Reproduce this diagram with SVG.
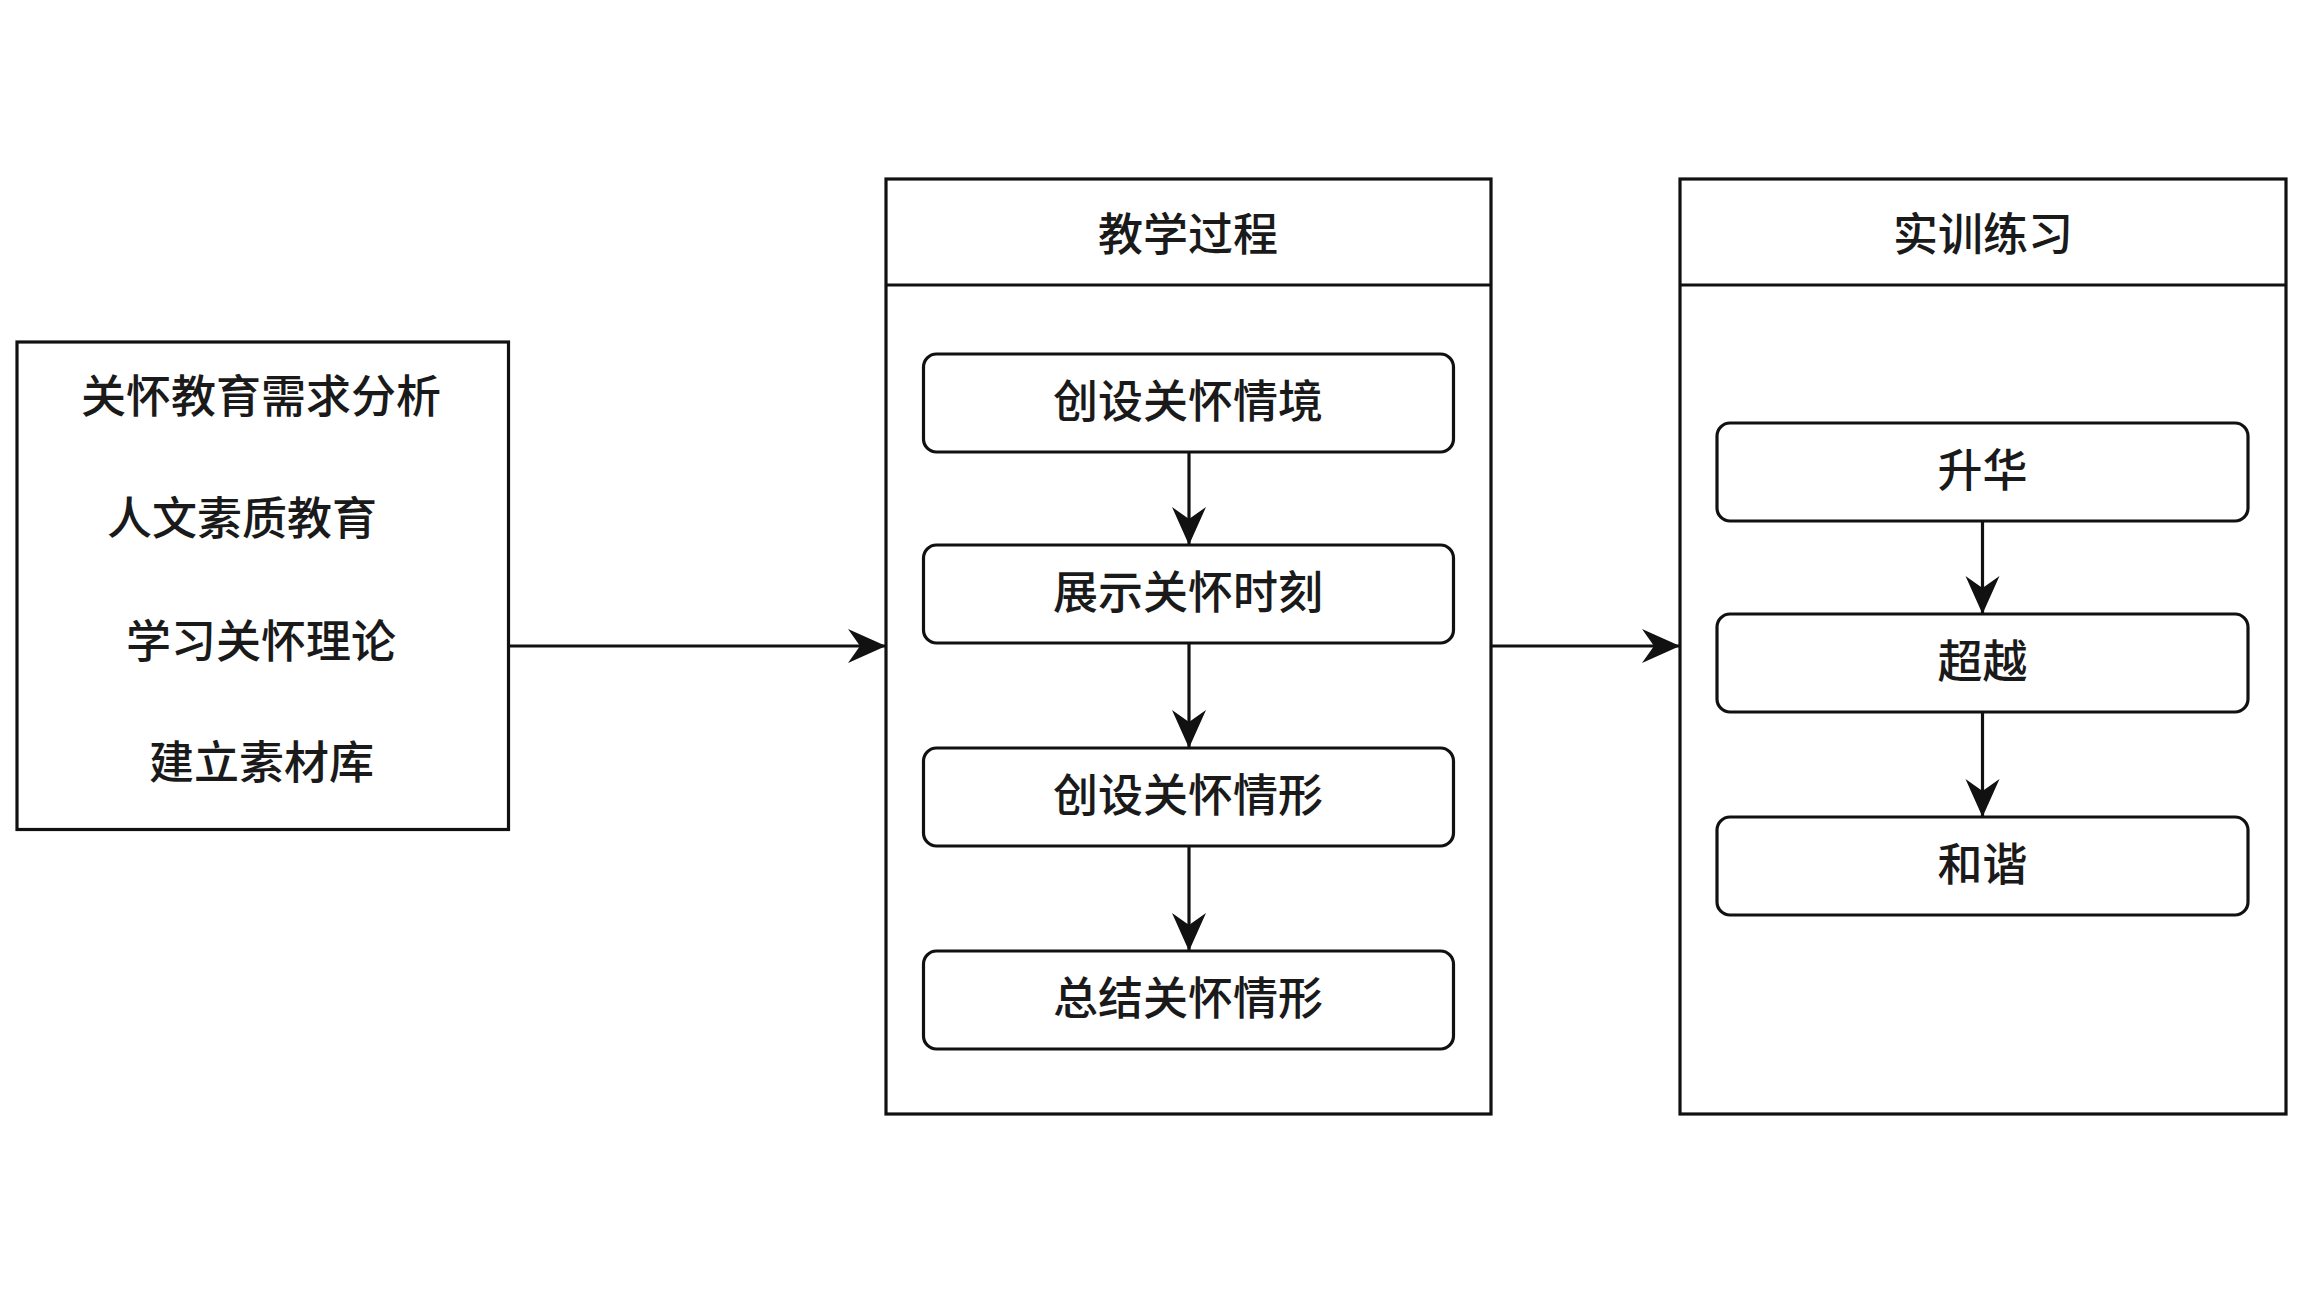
<svg xmlns="http://www.w3.org/2000/svg" width="2304" height="1296" viewBox="0 0 2304 1296">
  <defs>
    <style>
      .box { fill: #ffffff; stroke: #111111; stroke-width: 3.2; }
      .step { fill: #ffffff; stroke: #111111; stroke-width: 3.2; }
      .sep { stroke: #111111; stroke-width: 3.2; fill: none; }
      .conn { stroke: #111111; stroke-width: 3.2; fill: none; marker-end: url(#arrow); }
      .t { font-family: "Noto Sans CJK SC", "Noto Sans", sans-serif; font-size: 45px; font-weight: 500; fill: #1a1a1a; text-anchor: middle; }
    </style>
    <marker id="arrow" markerUnits="userSpaceOnUse" viewBox="-40 -20 42 40" refX="0" refY="0" markerWidth="42" markerHeight="40" orient="auto">
      <path d="M0,0 L-38,-17 L-26,0 L-38,17 Z" fill="#111111"/>
    </marker>
  </defs>
  <rect width="2304" height="1296" fill="#ffffff"/>

  <g id="prep">
    <rect class="box" x="17" y="342" width="491.5" height="487.5"/>
    <text class="t" x="261" y="413">关怀教育需求分析</text>
    <text class="t" x="242" y="535">人文素质教育</text>
    <text class="t" x="261" y="658">学习关怀理论</text>
    <text class="t" x="261.5" y="779">建立素材库</text>
  </g>

  <g id="teaching">
    <rect class="box" x="886" y="179" width="605" height="935"/>
    <line class="sep" x1="886" y1="285" x2="1491" y2="285"/>
    <text class="t" x="1188" y="251">教学过程</text>
  </g>
  <g id="t1">
    <rect class="step" x="923.5" y="354" width="530" height="98" rx="13"/>
    <text class="t" x="1188" y="418">创设关怀情境</text>
  </g>
  <g id="t2">
    <rect class="step" x="923.5" y="545" width="530" height="98" rx="13"/>
    <text class="t" x="1188" y="609">展示关怀时刻</text>
  </g>
  <g id="t3">
    <rect class="step" x="923.5" y="748" width="530" height="98" rx="13"/>
    <text class="t" x="1188" y="812">创设关怀情形</text>
  </g>
  <g id="t4">
    <rect class="step" x="923.5" y="951" width="530" height="98" rx="13"/>
    <text class="t" x="1188" y="1015">总结关怀情形</text>
  </g>

  <g id="training">
    <rect class="box" x="1680" y="179" width="606" height="935"/>
    <line class="sep" x1="1680" y1="285" x2="2286" y2="285"/>
    <text class="t" x="1983" y="251">实训练习</text>
  </g>
  <g id="r1">
    <rect class="step" x="1717" y="423" width="531" height="98" rx="13"/>
    <text class="t" x="1982.5" y="487">升华</text>
  </g>
  <g id="r2">
    <rect class="step" x="1717" y="614" width="531" height="98" rx="13"/>
    <text class="t" x="1982.5" y="678">超越</text>
  </g>
  <g id="r3">
    <rect class="step" x="1717" y="817" width="531" height="98" rx="13"/>
    <text class="t" x="1982.5" y="881">和谐</text>
  </g>

  <g id="connectors">
    <line class="conn" x1="508.5" y1="646" x2="886" y2="646"/>
    <line class="conn" x1="1491" y1="646" x2="1680" y2="646"/>
    <line class="conn" x1="1189" y1="452" x2="1189" y2="545"/>
    <line class="conn" x1="1189" y1="643" x2="1189" y2="748"/>
    <line class="conn" x1="1189" y1="846" x2="1189" y2="951"/>
    <line class="conn" x1="1982.5" y1="521" x2="1982.5" y2="614"/>
    <line class="conn" x1="1982.5" y1="712" x2="1982.5" y2="817"/>
  </g>
</svg>
